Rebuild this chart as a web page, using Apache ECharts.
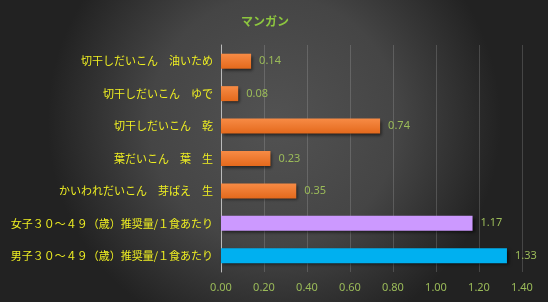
<!DOCTYPE html>
<html><head><meta charset="utf-8">
<script src="https://cdn.jsdelivr.net/npm/echarts@6/dist/echarts.min.js"></script>
<style>html,body{margin:0;padding:0;background:#2a2a2a;}#c{width:548px;height:302px;}</style>
</head><body><div id="c"></div>
<script>
var titleText = 'マンガン';
var categories = [
  '男子３０～４９（歳）推奨量/１食あたり',
  '女子３０～４９（歳）推奨量/１食あたり',
  'かいわれだいこん　芽ばえ　生',
  '葉だいこん　葉　生',
  '切干しだいこん　乾',
  '切干しだいこん　ゆで',
  '切干しだいこん　油いため'
];
var values = [1.33, 1.17, 0.35, 0.23, 0.74, 0.08, 0.14];
var barColors = ['#00B0F0', '#CC99FF', 'orange', 'orange', 'orange', 'orange', 'orange'];
var xTicks = {min: 0, max: 1.4, interval: 0.2};

var orangeGrad = new echarts.graphic.LinearGradient(0, 0, 0, 1, [
  {offset: 0, color: '#F78B45'}, {offset: 1, color: '#E4691C'}
]);
var chart = echarts.init(document.getElementById('c'));
chart.setOption({
  backgroundColor: new echarts.graphic.RadialGradient(0.5, 0.4, 0.75, [
    {offset: 0, color: '#525252'}, {offset: 0.55, color: '#454545'}, {offset: 1, color: '#222222'}
  ]),
  title: {text: titleText, left: 'center', top: 10, left: 236,
    textStyle: {color: '#8DC63F', fontSize: 12, fontWeight: 'bold', fontFamily: 'Noto Sans CJK JP'}},
  grid: {left: 221, right: 26, top: 45, bottom: 30, containLabel: false},
  xAxis: {type: 'value', min: xTicks.min, max: xTicks.max, interval: xTicks.interval,
    axisLine: {show: false}, axisTick: {show: false},
    splitLine: {lineStyle: {color: 'rgba(200,200,200,0.22)', width: 1}},
    axisLabel: {color: '#9BBB59', fontSize: 11, margin: 10, fontFamily: 'Noto Sans',
      formatter: function(v){return v.toFixed(2);}}},
  yAxis: {type: 'category', data: categories,
    axisLine: {show: true, lineStyle: {color: '#BBBBBB', width: 1}},
    axisTick: {show: false},
    axisLabel: {color: '#EEEE22', fontSize: 11, margin: 8, fontFamily: 'Noto Sans CJK JP'}},
  series: [{type: 'bar', barWidth: 15,
    data: values.map(function(v, i){
      return {value: v, itemStyle: {color: barColors[i] === 'orange' ? orangeGrad : barColors[i]}};
    }),
    itemStyle: {shadowColor: 'rgba(0,0,0,0.55)', shadowBlur: 3, shadowOffsetX: 2, shadowOffsetY: 2},
    label: {show: true, position: 'right', distance: 8, color: '#9BBB59', fontSize: 11, fontFamily: 'Noto Sans',
      formatter: function(p){return p.value.toFixed(2);}}
  }]
});
</script></body></html>
